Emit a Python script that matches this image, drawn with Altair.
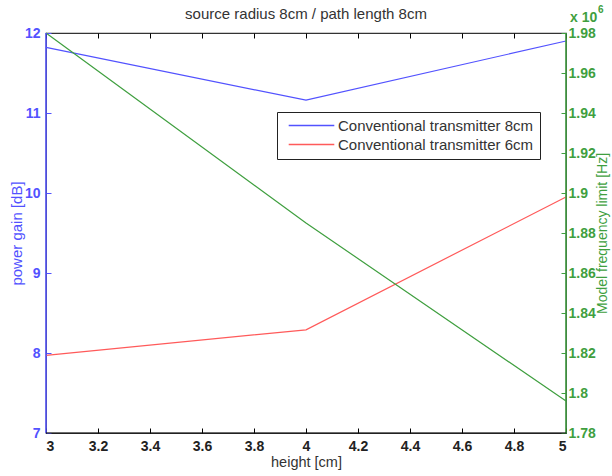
import altair as alt
import pandas as pd

# ---- data ----
heights = [3, 4, 5]
gain_8cm = [11.82, 11.16, 11.90]
gain_6cm = [7.97, 8.29, 9.95]
freq_limit = [1.980, 1.885, 1.796]          # in units of 10^6 Hz
series_names = ["Conventional transmitter 8cm", "Conventional transmitter 6cm"]
x_ticks = [3.0, 3.2, 3.4, 3.6, 3.8, 4.0, 4.2, 4.4, 4.6, 4.8, 5.0]
left_ticks = [7, 8, 9, 10, 11, 12]
right_ticks = [1.78, 1.80, 1.82, 1.84, 1.86, 1.88, 1.90, 1.92, 1.94, 1.96, 1.98]
chart_title = "source radius 8cm / path length 8cm"

W, H = 520, 400
BLUE = "#5252ff"
RED = "#ff5a5a"
GREEN = "#3f9f3f"
FONT = "Liberation Sans"

gain_df = pd.DataFrame({
    "height": heights * 2,
    "gain": gain_8cm + gain_6cm,
    "series": [series_names[0]] * 3 + [series_names[1]] * 3,
})
freq_df = pd.DataFrame({"height": heights, "freq": freq_limit})
one = pd.DataFrame({"k": [0]})

xscale = alt.Scale(domain=[3, 5], nice=False, zero=False)

left = alt.Chart(gain_df).mark_line(strokeWidth=1.2).encode(
    x=alt.X("height:Q", scale=xscale, axis=alt.Axis(
        orient="bottom", values=x_ticks, format=".1~f", title="height [cm]",
        offset=-5, domain=False, tickSize=5, tickColor="#000", labelColor="#222",
        labelPadding=6, labelFontSize=14, labelFontWeight="bold",
        titleFontSize=14.5, titleFontWeight="normal",
        titleColor="#333", titlePadding=2, grid=False, labelFont=FONT, titleFont=FONT)),
    y=alt.Y("gain:Q", scale=alt.Scale(domain=[7, 12], nice=False, zero=False), axis=alt.Axis(
        orient="left", values=left_ticks, title="power gain [dB]",
        offset=-5, domain=False, tickSize=5, tickColor=BLUE, labelColor=BLUE,
        titleColor=BLUE, labelPadding=6, labelFontSize=14, labelFontWeight="bold",
        titleFontSize=15, titleFontWeight="normal", titlePadding=0, grid=False,
        labelFont=FONT, titleFont=FONT)),
    color=alt.Color("series:N", scale=alt.Scale(domain=series_names, range=[BLUE, RED]),
                    legend=alt.Legend(
                        title=None, orient="none", legendX=231, legendY=79,
                        symbolType="M-3.8,0H3.8", symbolSize=144, symbolStrokeWidth=1.3,
                        symbolOffset=21, labelOffset=19,
                        labelFontSize=15, labelFont=FONT, labelColor="#333",
                        labelLimit=400, strokeColor="#222", fillColor="#fff",
                        padding=6, rowPadding=3)),
)

right = alt.Chart(freq_df).mark_line(color=GREEN, strokeWidth=1.2).encode(
    x=alt.X("height:Q", scale=xscale, axis=alt.Axis(
        orient="top", values=x_ticks, labels=False, title=None,
        offset=-5, domain=False, tickSize=5, tickColor="#000", grid=False)),
    y=alt.Y("freq:Q", scale=alt.Scale(domain=[1.78, 1.98], nice=False, zero=False), axis=alt.Axis(
        orient="right", values=right_ticks, format=".2~f", title="Model frequency limit [Hz]",
        offset=-5, domain=False, tickSize=5, tickColor=GREEN, labelColor=GREEN,
        titleColor=GREEN, labelPadding=2, labelFontSize=14, labelFontWeight="bold",
        titleFontSize=14, titleFontWeight="normal", titleAngle=270,
        titleBaseline="top", titlePadding=0,
        grid=False, labelFont=FONT, titleFont=FONT)),
)

left_edge = alt.Chart(one).mark_rule(color=BLUE, strokeWidth=1.5).encode(
    x=alt.value(0), y=alt.value(0), y2=alt.value(H))
right_edge = alt.Chart(one).mark_rule(color=GREEN, strokeWidth=1.5).encode(
    x=alt.value(W), y=alt.value(0), y2=alt.value(H))
bottom_edge = alt.Chart(one).mark_rule(color="#111", strokeWidth=1.2).encode(
    x=alt.value(0), x2=alt.value(W), y=alt.value(H))

exp_base = alt.Chart(one).mark_text(text="x 10", color=GREEN, fontSize=14, font=FONT,
                                    fontWeight="bold", align="left",
                                    baseline="alphabetic").encode(
    x=alt.value(524), y=alt.value(-11))
exp_sup = alt.Chart(one).mark_text(text="6", color=GREEN, fontSize=10, font=FONT,
                                   fontWeight="bold", align="left",
                                   baseline="alphabetic").encode(
    x=alt.value(552), y=alt.value(-20))

title_mark = alt.Chart(one).mark_text(text=chart_title, color="#333", fontSize=15, font=FONT,
                                      align="center", baseline="alphabetic").encode(
    x=alt.value(W / 2), y=alt.value(-14))

chart = alt.layer(left, right, left_edge, right_edge, bottom_edge,
                  exp_base, exp_sup, title_mark).resolve_scale(
    y="independent"
).resolve_axis(
    x="independent", y="independent"
).properties(
    width=W, height=H,
    autosize=alt.AutoSizeParams(type="none"),
    padding={"left": 46, "top": 33, "right": 46, "bottom": 43},
    background="white",
).configure_view(stroke="#333", strokeWidth=1.2)

chart.save("out.html", embed_options={"renderer": "svg", "actions": False})
